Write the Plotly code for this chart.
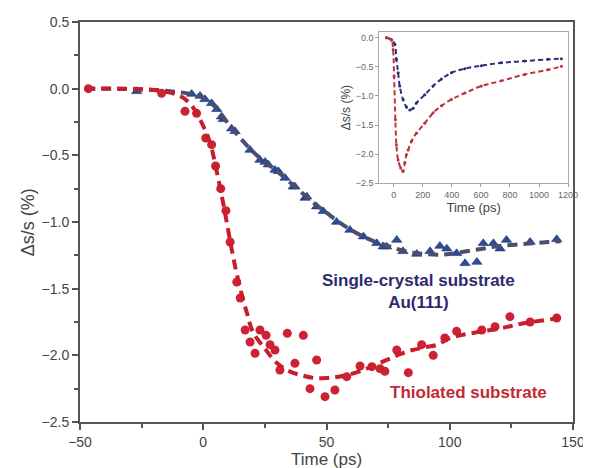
import plotly.graph_objects as go

# ---- main panel: Au(111) single-crystal (blue triangles) ----
blue_x = [-27, -4.7, -1.3, 0.7, 3.4, 5.5, 7.4, 8.1, 11.5, 12.9, 19, 23, 25.1, 26.4, 29.1, 30.5,
          33.2, 36.5, 37.2, 41.3, 42, 46, 48.7, 54.1, 59.5, 65, 70.4, 73, 74.4, 78.5, 81, 86.6,
          92, 96, 98.8, 102.8, 106.2, 111, 113.6, 117.7, 120.4, 123, 132.6, 143.4]
blue_y = [-0.02, -0.04, -0.055, -0.08, -0.11, -0.155, -0.21, -0.23, -0.30, -0.32, -0.46, -0.535,
          -0.55, -0.57, -0.61, -0.62, -0.67, -0.735, -0.735, -0.82, -0.81, -0.885, -0.92, -1.0,
          -1.06, -1.11, -1.16, -1.185, -1.185, -1.135, -1.22, -1.24, -1.22, -1.18, -1.20, -1.235,
          -1.31, -1.30, -1.16, -1.16, -1.20, -1.135, -1.15, -1.13]
blue_fit_x = [-48, -20, -5, 0, 5, 10, 15, 20, 25, 30, 35, 40, 45, 50, 55, 60, 65, 70, 75, 80,
              85, 90, 95, 100, 105, 110, 115, 120, 130, 140, 145]
blue_fit_y = [0, -0.01, -0.04, -0.07, -0.14, -0.26, -0.37, -0.47, -0.55, -0.62, -0.70, -0.78,
              -0.86, -0.93, -1.00, -1.06, -1.11, -1.15, -1.18, -1.21, -1.23, -1.24, -1.245, -1.24,
              -1.225, -1.21, -1.195, -1.18, -1.165, -1.15, -1.145]

# ---- main panel: thiolated substrate (red circles) ----
red_x = [-46.6, -16.9, -7.4, -2.7, 1, 3.4, 5, 7.1, 9.2, 10.9, 13.6, 15, 17, 19, 21, 23, 25.5,
         27.1, 29.1, 31.1, 34.1, 37.2, 40.6, 43.3, 46, 49.4, 53.4, 58.2, 63.6, 68.4, 71.7, 73.7,
         78.5, 83.2, 88.6, 93.3, 98, 102.8, 113, 118.4, 124.4, 132.6, 143.4]
red_y = [0, -0.035, -0.17, -0.185, -0.37, -0.42, -0.58, -0.75, -0.915, -1.15, -1.45, -1.57,
         -1.81, -1.90, -1.985, -1.81, -1.85, -1.92, -1.96, -2.11, -1.835, -2.06, -1.85, -2.25,
         -2.035, -2.31, -2.26, -2.16, -2.08, -2.085, -2.10, -2.12, -1.96, -2.13, -1.92, -2.0,
         -1.87, -1.82, -1.81, -1.785, -1.71, -1.75, -1.72]
red_fit_x = [-48, -20, -10, -5, 0, 3, 5, 8, 10, 12, 15, 18, 20, 25, 30, 35, 40, 45, 50, 55, 60,
             65, 70, 75, 80, 85, 90, 95, 100, 110, 120, 130, 145]
red_fit_y = [0, -0.01, -0.05, -0.12, -0.28, -0.42, -0.58, -0.85, -1.05, -1.25, -1.5, -1.7,
             -1.82, -1.95, -2.06, -2.12, -2.15, -2.17, -2.17, -2.16, -2.14, -2.11, -2.07, -2.03,
             -1.99, -1.96, -1.94, -1.92, -1.87, -1.83, -1.80, -1.76, -1.72]

# ---- inset (long time window) ----
in_blue_x = [-50, -16, 7, 18, 30, 41, 64, 87, 110, 133, 156, 213, 271, 328, 397, 489, 603, 741,
             902, 1062, 1154]
in_blue_y = [0, -0.03, -0.11, -0.37, -0.6, -0.83, -1.06, -1.19, -1.24, -1.21, -1.12, -0.98,
             -0.83, -0.71, -0.60, -0.53, -0.48, -0.43, -0.40, -0.37, -0.36]
in_red_x = [-50, -16, -5, 2, 11, 18, 30, 48, 64, 76, 87, 99, 122, 156, 213, 271, 328, 397, 489,
            603, 741, 902, 1062, 1154]
in_red_y = [0, -0.04, -0.2, -0.66, -1.41, -1.84, -2.1, -2.24, -2.3, -2.15, -2.01, -1.93, -1.78,
            -1.64, -1.47, -1.29, -1.17, -1.06, -0.95, -0.83, -0.74, -0.63, -0.55, -0.49]

main_x_ticks = [-50, 0, 50, 100, 150]
main_y_ticks = [0.5, 0.0, -0.5, -1.0, -1.5, -2.0, -2.5]
inset_x_ticks = [0, 200, 400, 600, 800, 1000, 1200]
inset_y_ticks = [0.0, -0.5, -1.0, -1.5, -2.0, -2.5]

RED = "#cc2233"
RED_LINE = "#c81e2c"
BLUE = "#2b4c9b"
BLUE_EDGE = "#1d2f70"
BLUE_LINE = "#4e4e6c"
NAVY = "#2e2a6e"
FONT = "Liberation Sans, Arial, sans-serif"

fig = go.Figure()

fig.add_trace(go.Scatter(x=blue_x, y=blue_y, mode="markers",
                         marker=dict(symbol="triangle-up", size=9, color=BLUE,
                                     line=dict(color=BLUE_EDGE, width=0.6)),
                         showlegend=False))
fig.add_trace(go.Scatter(x=blue_fit_x, y=blue_fit_y, mode="lines",
                         line=dict(color=BLUE_LINE, width=4, dash="10px,6px", shape="spline"),
                         showlegend=False))
fig.add_trace(go.Scatter(x=red_x, y=red_y, mode="markers",
                         marker=dict(symbol="circle", size=9, color=RED),
                         showlegend=False))
fig.add_trace(go.Scatter(x=red_fit_x, y=red_fit_y, mode="lines",
                         line=dict(color=RED_LINE, width=4, dash="10px,6px", shape="spline"),
                         showlegend=False))

# inset traces
fig.add_trace(go.Scatter(x=in_blue_x, y=in_blue_y, mode="lines+markers", xaxis="x2", yaxis="y2",
                         line=dict(color="#27307a", width=2, dash="5px,3px", shape="spline"),
                         marker=dict(size=3, color="#27307a"), showlegend=False))
fig.add_trace(go.Scatter(x=in_red_x, y=in_red_y, mode="lines+markers", xaxis="x2", yaxis="y2",
                         line=dict(color="#c0303a", width=2, dash="5px,3px", shape="spline"),
                         marker=dict(size=3, color="#c0303a"), showlegend=False))

axis_common = dict(showgrid=False, zeroline=False, showline=True, linecolor="#555",
                   linewidth=2, mirror=True, ticks="outside", tickcolor="#555", tickwidth=2,
                   ticklen=6, automargin=False,
                   tickfont=dict(family=FONT, size=14, color="#444"))

# the page body has an 8px margin, so the figure is sized to fit inside the window
fig.update_layout(
    width=583, height=460,
    margin=dict(l=72, r=18, t=14, b=46),
    paper_bgcolor="white", plot_bgcolor="white",
    font=dict(family=FONT),
    xaxis=dict(range=[-50, 150], tickvals=main_x_ticks,
               minor=dict(ticks="outside", dtick=25, tick0=-50, ticklen=4, tickcolor="#555"),
               **axis_common),
    yaxis=dict(range=[-2.5, 0.5], tickvals=main_y_ticks, tickformat=".1f",
               minor=dict(ticks="outside", dtick=0.25, tick0=0, ticklen=4, tickcolor="#555"),
               **axis_common),
    xaxis2=dict(domain=[0.607, 0.990], anchor="y2", range=[-100, 1200], tickvals=inset_x_ticks,
                showgrid=False, zeroline=False, showline=True, linecolor="#aaa", linewidth=1,
                mirror=True, ticks="outside", ticklen=3, tickcolor="#999", automargin=False,
                tickfont=dict(family=FONT, size=9, color="#666"),
                title=dict(text="Time (ps)", font=dict(family=FONT, size=13, color="#444"),
                           standoff=1)),
    yaxis2=dict(domain=[0.597, 0.975], anchor="x2", range=[-2.5, 0.1], tickvals=inset_y_ticks,
                tickformat=".1f", showgrid=False, zeroline=False, showline=True,
                linecolor="#aaa", linewidth=1, mirror=True, ticks="outside", ticklen=3,
                tickcolor="#999", automargin=False,
                tickfont=dict(family=FONT, size=9, color="#666"),
                title=dict(text="Δs/s (%)", font=dict(family=FONT, size=12, color="#444"),
                           standoff=2)),
    annotations=[
        dict(x=0.5, y=-0.093, xref="paper", yref="paper", showarrow=False,
             text="Time (ps)", yanchor="middle",
             font=dict(family=FONT, size=17, color="#444")),
        dict(x=-0.105, y=0.5, xref="paper", yref="paper", showarrow=False,
             text="Δs/s (%)", textangle=-90, xanchor="center",
             font=dict(family=FONT, size=18, color="#444")),
        dict(x=87.5, y=-1.52, xref="x", yref="y", showarrow=False,
             text="<b>Single-crystal substrate<br>Au(111)</b>", align="center",
             font=dict(family=FONT, size=17, color=NAVY)),
        dict(x=107.8, y=-2.275, xref="x", yref="y", showarrow=False,
             text="<b>Thiolated substrate</b>",
             font=dict(family=FONT, size=17, color="#c42a35")),
    ],
)

fig.write_html("out.html")
